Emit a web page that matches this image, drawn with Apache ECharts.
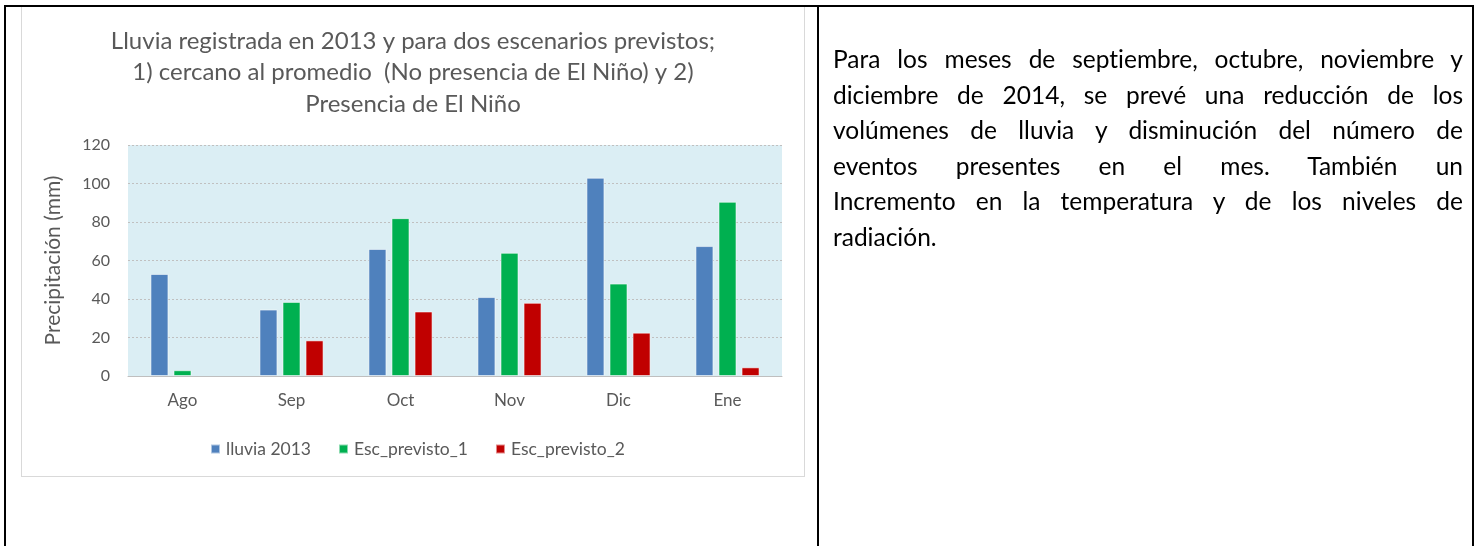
<!DOCTYPE html>
<html>
<head>
<meta charset="utf-8">
<script src="https://cdn.jsdelivr.net/npm/echarts@6/dist/echarts.min.js"></script>
<style>
  html, body { margin: 0; padding: 0; background: #fff; }
  body { width: 1484px; height: 546px; position: relative; overflow: hidden; }
  .bl { position: absolute; background: #000; }
  #frame { position: absolute; left: 21px; top: 6px; width: 782px; height: 469px; border: 1px solid #d9d9d9; box-sizing: content-box; }
  #chart { position: absolute; left: 0; top: 0; width: 1484px; height: 546px; }
  #txt { position: absolute; left: 833px; top: 41px; width: 630px; font-family: Lato, "Open Sans", sans-serif; font-size: 24.5px; line-height: 35.6px; color: #000; font-variant-ligatures: none; font-feature-settings: "liga" 0, "clig" 0; }
  #txt div { text-align: justify; text-align-last: justify; white-space: nowrap; }
  #txt div.last { text-align: left; text-align-last: left; }
</style>
</head>
<body>
<div id="frame"></div>
<div id="chart"></div>
<div class="bl" style="left:4px; top:5px; width:1470px; height:2px;"></div>
<div class="bl" style="left:4px; top:5px; width:2px; height:541px;"></div>
<div class="bl" style="left:817px; top:5px; width:2px; height:541px;"></div>
<div class="bl" style="left:1472px; top:5px; width:2px; height:541px;"></div>
<div id="txt"></div>
<script>
const titleLines = [
  "Lluvia registrada en 2013 y para dos escenarios previstos;",
  "1) cercano al promedio  (No presencia de El Niño) y 2)",
  "Presencia de El Niño"
];
const categories = ["Ago", "Sep", "Oct", "Nov", "Dic", "Ene"];
const seriesNames = ["lluvia 2013", "Esc_previsto_1", "Esc_previsto_2"];
const lluvia2013 = [53, 34.5, 66, 41, 103, 67.5];
const escPrevisto1 = [3, 38.5, 82, 64, 48, 90.5];
const escPrevisto2 = [null, 18.5, 33.5, 38, 22.5, 4.5];
const yTicks = { min: 0, max: 120, interval: 20 };
const yAxisName = "Precipitación (mm)";
const sideText = [
  "Para los meses de septiembre, octubre, noviembre y",
  "diciembre de 2014, se prevé una reducción de los",
  "volúmenes de lluvia y disminución del número de",
  "eventos presentes en el mes. También un",
  "Incremento en la temperatura y de los niveles de",
  "radiación."
];

const txt = document.getElementById('txt');
sideText.forEach((line, i) => {
  const d = document.createElement('div');
  d.textContent = line;
  if (i === sideText.length - 1) d.className = 'last';
  txt.appendChild(d);
});

const font = 'Lato, "Open Sans", sans-serif';
const gray = '#595959';
const colors = ['#4F81BD', '#00B050', '#C00000'];
const data = [lluvia2013, escPrevisto1, escPrevisto2];

const chart = echarts.init(document.getElementById('chart'), null, { renderer: 'canvas' });
chart.setOption({
  animation: false,
  textStyle: { fontFamily: font },
  graphic: titleLines.map((t, i) => ({
    type: 'text',
    x: 413, y: 41 + i * 31.5,
    style: { text: t, fill: gray, font: '24px ' + font, textAlign: 'center', textVerticalAlign: 'middle' }
  })),
  legend: {
    left: 205, top: 435,
    icon: 'rect', itemWidth: 9, itemHeight: 9, itemGap: 27,
    textStyle: { color: gray, fontSize: 17.5, fontFamily: font, padding: [0, 0, 0, 1] },
    data: seriesNames
  },
  grid: { left: 128, top: 145, width: 654, height: 231, show: true, backgroundColor: '#DBEEF4', borderWidth: 0, containLabel: false },
  xAxis: {
    type: 'category', data: categories,
    axisLine: { show: true, lineStyle: { color: '#bfbfbf', width: 1 } },
    axisTick: { show: false },
    axisLabel: { color: gray, fontSize: 17, margin: 16, fontFamily: font }
  },
  yAxis: {
    type: 'value', min: yTicks.min, max: yTicks.max, interval: yTicks.interval,
    name: yAxisName, nameLocation: 'middle', nameRotate: 90, nameGap: 64,
    nameTextStyle: { color: gray, fontSize: 21, fontFamily: font },
    axisLine: { show: false }, axisTick: { show: false },
    axisLabel: { color: gray, fontSize: 16, margin: 18, fontFamily: font },
    splitLine: { lineStyle: { color: '#c0c0c0', type: [2, 2], width: 1 } }
  },
  series: seriesNames.map((n, i) => ({
    name: n, type: 'bar', data: data[i],
    barWidth: 18, barGap: '28%',
    itemStyle: { color: colors[i], borderColor: 'rgba(255,255,255,0.55)', borderWidth: 1 }
  }))
});
</script>
</body>
</html>
